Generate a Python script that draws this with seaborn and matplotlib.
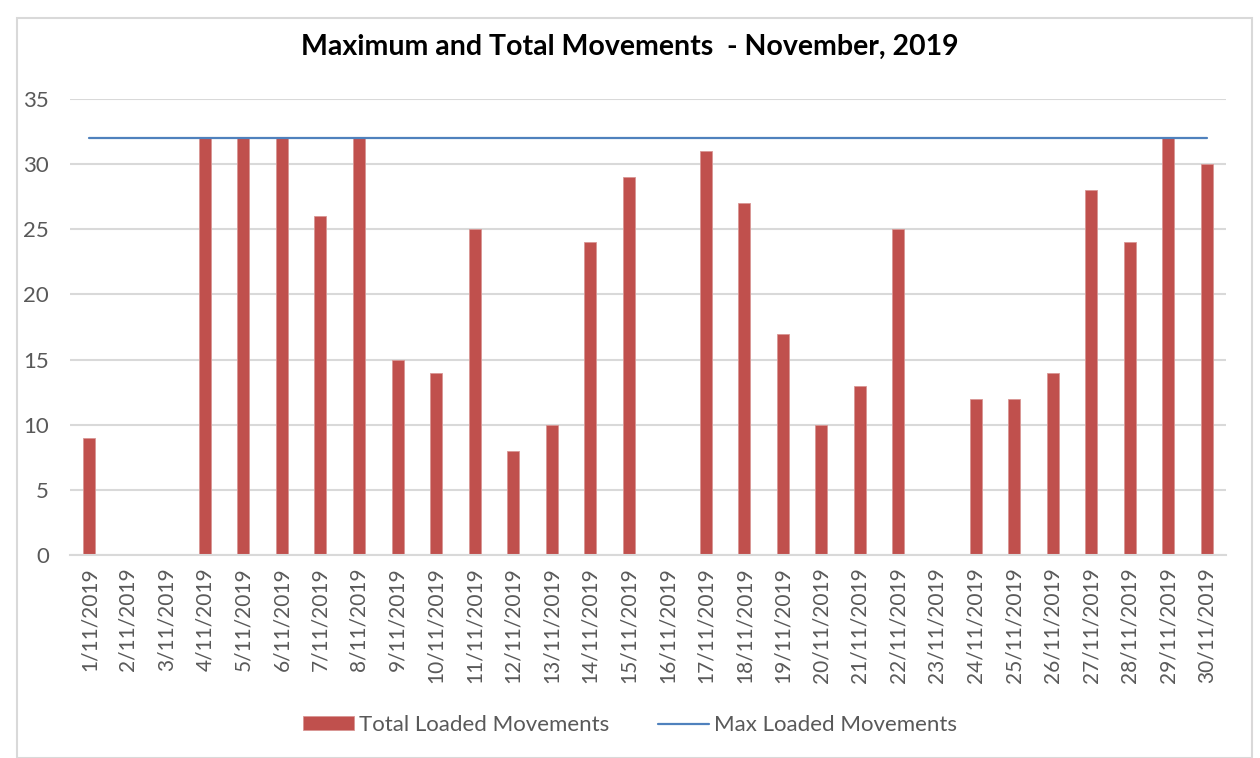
import pandas as pd
import numpy as np
import matplotlib.pyplot as plt
import seaborn as sns

# Data
days = [f"{d}/11/2019" for d in range(1, 31)]
total_loaded = [9, 0, 0, 32, 32, 32, 26, 32, 15, 14, 25, 8, 10, 24, 29,
                0, 31, 27, 17, 10, 13, 25, 0, 12, 12, 14, 28, 24, 32, 30]
max_loaded = [32] * 30
y_ticks = [0, 5, 10, 15, 20, 25, 30, 35]

bar_color = "#C0504D"
line_color = "#4F81BD"
text_gray = "#595959"
grid_gray = "#D9D9D9"

sns.set_style("white")
plt.rcParams['font.family'] = ['Lato', 'DejaVu Sans']

df = pd.DataFrame({"Day": days, "Total": total_loaded, "Max": max_loaded})
df["pos"] = np.arange(len(df))

fig = plt.figure(figsize=(12.6, 7.58), dpi=100)
ax = fig.add_axes([70 / 1260, 1 - 555 / 758, (1226 - 70) / 1260, (555 - 99) / 758])

# outer chart border
fig.patches.append(plt.Rectangle((17 / 1260, 0.0), (1252 - 17) / 1260, 1 - 18 / 758,
                                 transform=fig.transFigure, fill=False,
                                 edgecolor="#D9D9D9", linewidth=1.5))

sns.barplot(data=df, x="Day", y="Total", color=bar_color, width=0.31,
            saturation=1, ax=ax, label="Total Loaded Movements", zorder=2,
            edgecolor="#D99694", linewidth=0.6)
sns.lineplot(data=df, x="pos", y="Max", color=line_color, linewidth=1.6,
             ax=ax, label="Max Loaded Movements", zorder=3)

ax.set_xlim(-0.5, len(days) - 0.5)
ax.set_ylim(0, 35)
ax.set_yticks(y_ticks)
ax.set_xticks(range(len(days)))
ax.set_xticklabels(days, rotation=90, fontsize=15, color=text_gray)
ax.tick_params(axis="y", labelsize=16, labelcolor=text_gray, length=0, pad=15)
ax.tick_params(axis="x", which="major", length=0, pad=9)
ax.set_xticks(np.arange(-0.5, len(days), 1), minor=True)
ax.tick_params(axis="x", which="minor", length=6, color=grid_gray, width=1.5)
ax.set_xlabel("")
ax.set_ylabel("")

ax.yaxis.grid(True, color=grid_gray, linewidth=1.5, zorder=0)
ax.set_axisbelow(True)
for s in ["top", "right", "left"]:
    ax.spines[s].set_visible(False)
ax.spines["bottom"].set_color(grid_gray)
ax.spines["bottom"].set_linewidth(1.5)

fig.text(0.5, 1 - 47 / 758, "Maximum and Total Movements  - November, 2019",
         ha="center", va="center", fontsize=20.5, fontweight="bold", color="black")

handles, labels = ax.get_legend_handles_labels()
order = [labels.index("Total Loaded Movements"), labels.index("Max Loaded Movements")]
ax.legend([handles[i] for i in order], [labels[i] for i in order],
          loc="center", bbox_to_anchor=(0.5, 1 - 725 / 758),
          bbox_transform=fig.transFigure, ncol=2, frameon=False, fontsize=16,
          labelcolor=text_gray, handlelength=2.3, handleheight=0.6,
          columnspacing=2.2, handletextpad=0.2)

fig.savefig("out.png", dpi=100)
